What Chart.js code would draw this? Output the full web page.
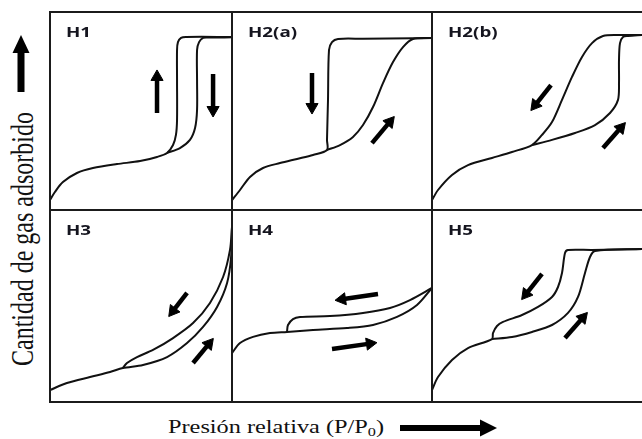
<!DOCTYPE html>
<html><head><meta charset="utf-8">
<script src="https://cdn.jsdelivr.net/npm/chart.js@4.4.1/dist/chart.umd.min.js"></script>
<style>
html,body{margin:0;padding:0;background:#fff;}
#wrap{position:relative;width:642px;height:439px;overflow:hidden;background:#fff;}
.pan{position:absolute;}
.ln{position:absolute;background:#1b1b1b;z-index:5;}
.lab{position:absolute;font-family:"Open Sans",sans-serif;font-weight:700;font-size:15px;line-height:15px;color:#15151f;transform:scaleX(1.25);transform-origin:0 0;z-index:6;white-space:nowrap;}
#xt{position:absolute;left:168px;top:418px;font-family:"Liberation Serif","Times New Roman",serif;font-size:18px;line-height:18px;color:#111;white-space:nowrap;transform:scaleX(1.35);transform-origin:0 0;}
#xt sub{font-size:12px;vertical-align:-3px;line-height:0;}
#yt{position:absolute;left:-128px;top:224px;width:300px;height:30px;line-height:30px;text-align:center;font-family:"Liberation Serif","Times New Roman",serif;font-size:24px;color:#111;white-space:nowrap;transform:rotate(-90deg) scaleY(1.35);}
svg{position:absolute;left:0;top:0;}
</style></head>
<body>
<div id="wrap">
<svg width="642" height="439">
  <rect x="17.5" y="50" width="7" height="42" fill="#000"/>
  <polygon points="12.5,53 29.5,53 21,35" fill="#000"/>
  <rect x="400" y="425" width="82" height="6" fill="#000"/>
  <polygon points="480,419.5 480,436.5 497,428" fill="#000"/>
</svg>
<div id="yt">Cantidad de gas adsorbido</div>
<div id="xt">Presión relativa (P/P<sub>0</sub>)</div>
</div>
<script>
// ---------- DATA (normalised: x = relative pressure, y = amount adsorbed) ----------
const panelLabels = ['H1', 'H2(a)', 'H2(b)', 'H3', 'H4', 'H5'];

const h1Base = [[0,0.05],[0.027,0.091],[0.071,0.141],[0.148,0.187],[0.236,0.212],[0.368,0.232],[0.495,0.247],[0.588,0.268],[0.643,0.288]];
const h1BranchA = [[0.643,0.288],[0.676,0.328],[0.692,0.379],[0.698,0.455],[0.698,0.657],[0.698,0.808],[0.703,0.848],[0.72,0.869],[0.747,0.874],[1,0.874]];
const h1BranchB = [[0.643,0.288],[0.714,0.313],[0.769,0.354],[0.797,0.414],[0.808,0.505],[0.808,0.657],[0.808,0.808],[0.819,0.848],[0.841,0.869],[0.868,0.871],[1,0.872]];

const h2aBase = [[0,0.05],[0.04,0.101],[0.09,0.167],[0.155,0.212],[0.24,0.237],[0.325,0.258],[0.405,0.278],[0.475,0.303]];
const h2aBranchA = [[0.475,0.303],[0.475,0.354],[0.48,0.556],[0.485,0.808],[0.5,0.848],[0.53,0.864],[0.655,0.865],[0.905,0.867],[1,0.869]];
const h2aBranchB = [[0.475,0.303],[0.54,0.328],[0.605,0.369],[0.655,0.429],[0.705,0.52],[0.755,0.641],[0.805,0.747],[0.855,0.823],[0.905,0.864],[1,0.869]];

const h2bBase = [[0,0.05],[0.03,0.101],[0.1,0.177],[0.18,0.227],[0.3,0.263],[0.4,0.293],[0.5,0.328]];
const h2bBranchA = [[0.5,0.328],[0.55,0.379],[0.6,0.444],[0.65,0.556],[0.7,0.672],[0.75,0.773],[0.8,0.843],[0.855,0.879],[0.93,0.884],[1.05,0.884]];
const h2bBranchB = [[0.5,0.328],[0.6,0.354],[0.715,0.389],[0.815,0.429],[0.89,0.49],[0.93,0.556],[0.935,0.641],[0.935,0.758],[0.94,0.843],[0.955,0.874],[0.98,0.879],[1.05,0.884]];

const h3Base = [[0,0.0625],[0.093,0.099],[0.22,0.13],[0.33,0.156],[0.4,0.177]];
const h3BranchA = [[0.4,0.177],[0.511,0.193],[0.643,0.234],[0.753,0.307],[0.841,0.391],[0.918,0.495],[0.973,0.62],[0.995,0.755],[1,0.911]];
const h3BranchB = [[0.4,0.177],[0.423,0.203],[0.478,0.234],[0.566,0.271],[0.676,0.333],[0.786,0.411],[0.879,0.516],[0.951,0.651],[0.989,0.792],[1,0.911]];

const h4Base = [[0,0.255],[0.04,0.307],[0.105,0.339],[0.19,0.359],[0.275,0.365]];
const h4BranchA = [[0.275,0.365],[0.405,0.375],[0.575,0.385],[0.705,0.401],[0.825,0.443],[0.925,0.505],[1,0.594]];
const h4BranchB = [[0.275,0.365],[0.28,0.401],[0.305,0.432],[0.34,0.443],[0.49,0.448],[0.655,0.464],[0.79,0.49],[0.89,0.531],[1,0.594]];

const h5Base = [[0,0.0625],[0.03,0.13],[0.1,0.219],[0.18,0.281],[0.3,0.328]];
const h5BranchA = [[0.3,0.328],[0.305,0.359],[0.325,0.396],[0.355,0.417],[0.45,0.453],[0.53,0.495],[0.6,0.547],[0.63,0.599],[0.65,0.672],[0.665,0.776],[0.68,0.792],[0.8,0.792],[1.05,0.797]];
const h5BranchB = [[0.3,0.328],[0.4,0.339],[0.5,0.365],[0.6,0.401],[0.68,0.464],[0.73,0.547],[0.765,0.672],[0.79,0.755],[0.815,0.786],[1.05,0.797]];

// arrows: [tail, head]
const h1Arrows = [[[0.588,0.49],[0.588,0.672]], [[0.896,0.687],[0.896,0.505]]];
const h2aArrows = [[[0.40,0.692],[0.40,0.52]], [[0.70,0.338],[0.789,0.445]]];
const h2bArrows = [[[0.595,0.631],[0.516,0.53]], [[0.855,0.313],[0.944,0.415]]];
const h3Arrows = [[[0.753,0.568],[0.676,0.474]], [[0.786,0.203],[0.873,0.303]]];
const h4Arrows = [[[0.73,0.5625],[0.55,0.535]], [[0.50,0.276],[0.69,0.304]]];
const h5Arrows = [[[0.55,0.667],[0.47,0.562]], [[0.665,0.333],[0.754,0.439]]];

const xMaxByColumn = [1, 1, 1.05];

// ---------- LAYOUT ----------
const colLeft = [50, 232, 432], colWidth = [182, 200, 210];
const rowTop = [12, 210], rowHeight = [198, 192];

const panels = [
  [h1Base, h1BranchA, h1BranchB, h1Arrows],
  [h2aBase, h2aBranchA, h2aBranchB, h2aArrows],
  [h2bBase, h2bBranchA, h2bBranchB, h2bArrows],
  [h3Base, h3BranchA, h3BranchB, h3Arrows],
  [h4Base, h4BranchA, h4BranchB, h4Arrows],
  [h5Base, h5BranchA, h5BranchB, h5Arrows]
];

const wrap = document.getElementById('wrap');
const toXY = arr => arr.map(p => ({x: p[0], y: p[1]}));

function arrowRotation(ctx) {
  const ch = ctx.chart, d = ctx.dataset.data;
  const xs = ch.scales.x, ys = ch.scales.y;
  const dx = xs.getPixelForValue(d[1].x) - xs.getPixelForValue(d[0].x);
  const dy = ys.getPixelForValue(d[1].y) - ys.getPixelForValue(d[0].y);
  return Math.atan2(dx, -dy) * 180 / Math.PI;
}

panels.forEach((pd, i) => {
  const c = i % 3, r = Math.floor(i / 3);
  const holder = document.createElement('div');
  holder.className = 'pan';
  holder.style.left = colLeft[c] + 'px';
  holder.style.top = rowTop[r] + 'px';
  holder.style.width = colWidth[c] + 'px';
  holder.style.height = rowHeight[r] + 'px';
  const cv = document.createElement('canvas');
  cv.width = colWidth[c]; cv.height = rowHeight[r];
  cv.style.width = colWidth[c] + 'px'; cv.style.height = rowHeight[r] + 'px';
  holder.appendChild(cv);
  wrap.appendChild(holder);

  const [base, brA, brB, arrows] = pd;
  const curveStyle = {showLine: true, borderColor: '#111', borderWidth: 2, pointRadius: 0, tension: 0.3, clip: 4, fill: false};
  const datasets = [
    Object.assign({data: toXY(base.concat(brA.slice(1)))}, curveStyle),
    Object.assign({data: toXY(brB)}, curveStyle)
  ];
  arrows.forEach(a => {
    datasets.push({
      data: toXY(a), showLine: true, borderColor: '#000', borderWidth: 4.5, tension: 0,
      pointRadius: ctx => ctx.dataIndex === 1 ? 7 : 0,
      pointStyle: 'triangle', pointRotation: arrowRotation,
      pointBackgroundColor: '#000', pointBorderColor: '#000', pointBorderWidth: 1, clip: false
    });
  });

  new Chart(cv, {
    type: 'scatter',
    data: {datasets},
    options: {
      responsive: false, animation: false, devicePixelRatio: 1,
      layout: {padding: 0, autoPadding: false},
      events: [],
      scales: {
        x: {type: 'linear', min: 0, max: xMaxByColumn[c], display: false},
        y: {type: 'linear', min: 0, max: 1, display: false}
      },
      plugins: {legend: {display: false}, tooltip: {enabled: false}}
    }
  });

  const lab = document.createElement('div');
  lab.className = 'lab';
  lab.textContent = panelLabels[i];
  lab.style.left = (colLeft[c] + 16) + 'px';
  lab.style.top = (rowTop[r] + 12) + 'px';
  wrap.appendChild(lab);
});

// frame lines
function ln(x, y, w, h) {
  const d = document.createElement('div');
  d.className = 'ln';
  d.style.left = x + 'px'; d.style.top = y + 'px';
  d.style.width = w + 'px'; d.style.height = h + 'px';
  wrap.appendChild(d);
}
ln(49, 11, 593, 2);
ln(49, 209, 593, 2);
ln(49, 401, 593, 2);
ln(49, 11, 2, 392);
ln(231, 11, 2, 392);
ln(431, 11, 2, 392);
</script>
</body></html>
